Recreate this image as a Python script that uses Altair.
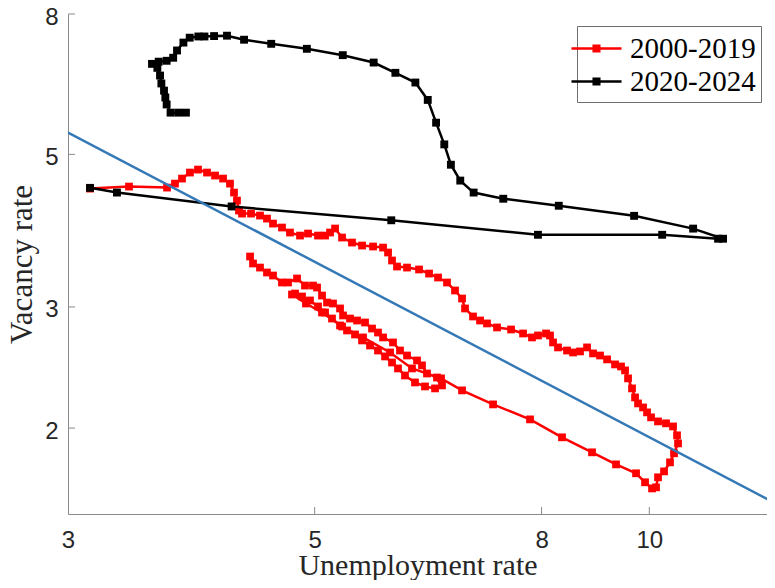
import altair as alt
import pandas as pd

# ---- data ----
series_names = ["2000-2019", "2020-2024"]

red_u = [4.374, 4.401, 4.465, 4.530, 4.587, 4.673, 4.732, 4.821, 4.901, 4.983,
         5.025, 5.077, 5.130, 5.194, 5.270, 5.303, 5.380, 5.459, 5.550, 5.631,
         5.701, 5.761, 5.881, 5.967, 6.054, 6.181, 6.245, 6.310, 6.442, 6.509,
         6.416, 6.284, 6.155, 6.029, 5.942, 5.869, 5.785, 5.701, 5.608, 5.516,
         5.436, 5.347, 5.270, 5.183, 5.109, 5.035, 4.952, 4.871, 4.801,
         4.771, 4.911, 5.077, 5.292, 5.527, 5.845, 6.117, 6.496, 6.785, 7.235,
         7.811, 8.346, 8.881, 9.334, 9.729, 9.912, 10.057, 10.140,
         10.182, 10.310, 10.438, 10.525, 10.613, 10.591, 10.504, 10.352, 10.182, 10.036,
         9.953, 9.871, 9.769, 9.709, 9.648, 9.569, 9.510, 9.431, 9.315, 9.162,
         9.030, 8.900, 8.790, 8.663, 8.539, 8.433, 8.277, 8.192, 8.141, 8.074,
         7.941, 7.843, 7.699, 7.510, 7.295, 7.145, 7.043, 6.941, 6.827, 6.785,
         6.687, 6.577, 6.456, 6.337, 6.207, 6.054, 5.930, 5.869, 5.821, 5.761,
         5.643, 5.516, 5.402, 5.292, 5.216, 5.162, 5.109, 5.035, 4.932, 4.851,
         4.751, 4.673, 4.587, 4.530, 4.465, 4.383, 4.302, 4.275, 4.257, 4.231,
         4.196, 4.136, 4.068, 4.001, 3.927, 3.862, 3.799, 3.744, 3.683, 3.404, 3.140]
red_v = [3.552, 3.470, 3.423, 3.367, 3.333, 3.256, 3.256, 3.300, 3.223, 3.223,
         3.202, 3.117, 3.045, 3.035, 2.985, 2.916, 2.886, 2.867, 2.848, 2.791,
         2.754, 2.709, 2.664, 2.593, 2.550, 2.508, 2.467, 2.401, 2.369, 2.307,
         2.284, 2.299, 2.330, 2.385, 2.442, 2.491, 2.542, 2.593, 2.637, 2.682,
         2.736, 2.773, 2.820, 2.886, 2.945, 3.005, 3.066, 3.107, 3.138,
         3.128, 3.035, 2.945, 2.810, 2.709, 2.576, 2.442, 2.362, 2.269, 2.165,
         2.059, 1.939, 1.844, 1.771, 1.719, 1.668, 1.634, 1.640,
         1.696, 1.730, 1.783, 1.838, 1.900, 1.952, 2.011, 2.032, 2.045, 2.073,
         2.108, 2.143, 2.172, 2.216, 2.284, 2.362, 2.426, 2.458, 2.475, 2.517,
         2.550, 2.568, 2.620, 2.585, 2.576, 2.593, 2.620, 2.664, 2.727, 2.745,
         2.727, 2.709, 2.745, 2.782, 2.801, 2.839, 2.867, 2.906, 2.985, 3.086,
         3.170, 3.256, 3.311, 3.355, 3.401, 3.423, 3.435, 3.505, 3.600, 3.660,
         3.673, 3.685, 3.722, 3.785, 3.901, 3.849, 3.810, 3.810, 3.836, 3.810,
         3.849, 3.914, 3.966, 4.033, 4.074, 4.101, 4.101, 4.143, 4.284, 4.400,
         4.534, 4.611, 4.658, 4.705, 4.752, 4.705, 4.611, 4.534, 4.474, 4.489, 4.459]

black_u = [3.14, 3.32, 4.21, 5.86, 7.94, 10.27, 11.53, 11.65, 10.95, 9.69,
           8.29, 7.39, 6.95, 6.76, 6.63, 6.54, 6.43, 6.32, 6.16, 5.91,
           5.65, 5.30, 4.92, 4.57, 4.32, 4.17, 4.06, 3.98, 3.93, 3.86,
           3.81, 3.76, 3.73, 3.68, 3.62, 3.57, 3.61, 3.63, 3.64, 3.66,
           3.67, 3.68, 3.71, 3.77, 3.83]
black_v = [4.47, 4.40, 4.20, 4.01, 3.82, 3.82, 3.77, 3.77, 3.90, 4.07,
           4.21, 4.31, 4.40, 4.58, 4.83, 5.17, 5.56, 6.00, 6.36, 6.57,
           6.80, 6.97, 7.12, 7.24, 7.34, 7.44, 7.43, 7.42, 7.42, 7.39,
           7.27, 7.08, 6.91, 6.84, 6.82, 6.77, 6.68, 6.51, 6.34, 6.19,
           6.05, 5.91, 5.75, 5.75, 5.75]

fit_u = [3.0, 13.0]
fit_v = [5.38, 1.553]

x_ticks = [3, 5, 8, 10]
y_ticks = [2, 3, 5, 8]

# ---- tables ----
red_df = pd.DataFrame({"u": red_u, "v": red_v, "series": series_names[0],
                       "i": range(len(red_u))})
black_df = pd.DataFrame({"u": black_u, "v": black_v, "series": series_names[1],
                         "i": range(len(black_u))})
fit_df = pd.DataFrame({"u": fit_u, "v": fit_v, "i": range(len(fit_u))})
xt_df = pd.DataFrame({"u": x_ticks[1:]})
yt_df = pd.DataFrame({"v": y_ticks})

W, H = 699, 500
AXIS_GREY = "#8a8a8a"
TXT = "#262626"

xscale = alt.Scale(type="log", domain=[3, 12.76], nice=False, zero=False)
yscale = alt.Scale(type="log", domain=[1.5, 8], nice=False, zero=False)

xaxis = alt.Axis(values=x_ticks, format="d", title="Unemployment rate",
                 grid=False, ticks=False, domainColor=AXIS_GREY, domainWidth=1,
                 labelFont="Liberation Sans", labelFontSize=24, labelColor=TXT,
                 labelBaseline="alphabetic", labelPadding=33, labelFlush=False,
                 labelOverlap=False,
                 titleFont="Liberation Serif", titleFontSize=30, titleFontWeight="normal",
                 titleColor=TXT, titleBaseline="alphabetic", titleY=60, titleX=W / 2)
yaxis = alt.Axis(values=y_ticks, format="d", title="Vacancy rate",
                 grid=False, ticks=False, domainColor=AXIS_GREY, domainWidth=1,
                 labelFont="Liberation Sans", labelFontSize=24, labelColor=TXT,
                 labelBaseline="middle", labelPadding=10, labelFlush=False,
                 labelOverlap=False, labelOffset=3,
                 titleFont="Liberation Serif", titleFontSize=31, titleFontWeight="normal",
                 titleColor=TXT, titleAngle=270, titleBaseline="alphabetic",
                 titleAlign="center", titleX=-37, titleY=H / 2)

X = alt.X("u:Q", scale=xscale, axis=xaxis)
Y = alt.Y("v:Q", scale=yscale, axis=yaxis)

cscale = alt.Scale(domain=series_names, range=["#ff0000", "#000000"])
legend_symbol = ("M-1.43,-0.07H1.43V0.07H-1.43Z "
                 "M-0.23,-0.23H0.23V0.23H-0.23Z")
legend = alt.Legend(title=None, orient="none", legendX=509, legendY=12,
                    symbolType=legend_symbol, symbolSize=1225, symbolStrokeWidth=0,
                    symbolOpacity=1, symbolOffset=-3,
                    labelFont="Liberation Serif", labelFontSize=29, labelColor="#000000",
                    labelOffset=16, labelLimit=300, rowPadding=0,
                    padding=5, strokeColor="#6e6e6e", fillColor="white")
C = alt.Color("series:N", scale=cscale, legend=legend)

red_line = alt.Chart(red_df).mark_line(color="#ff0000", strokeWidth=2.5).encode(
    x=X, y=Y, order="i:Q")
red_pts = alt.Chart(red_df).mark_point(shape="square", filled=True, size=60,
                                       opacity=1).encode(x=X, y=Y, color=C)
black_line = alt.Chart(black_df).mark_line(color="#000000", strokeWidth=2.5).encode(
    x=X, y=Y, order="i:Q")
black_pts = alt.Chart(black_df).mark_point(shape="square", filled=True, size=62,
                                           opacity=1).encode(x=X, y=Y, color=C)
fit_line = alt.Chart(fit_df).mark_line(color="#3479b6", strokeWidth=2.5,
                                       clip=True).encode(x=X, y=Y, order="i:Q")

xticks_in = alt.Chart(xt_df).mark_rule(color=AXIS_GREY, strokeWidth=1).encode(
    x=X, y=alt.value(H), y2=alt.value(H - 7))
yticks_in = alt.Chart(yt_df).mark_rule(color=AXIS_GREY, strokeWidth=1).encode(
    y=Y, x=alt.value(0), x2=alt.value(7))

chart = alt.layer(xticks_in, yticks_in, red_line, red_pts, black_line, black_pts,
                  fit_line).properties(
    width=W, height=H,
    padding={"left": 60, "top": 6, "right": 0, "bottom": 66},
    autosize=alt.AutoSizeParams(type="none"),
    background="white",
).configure_view(stroke=None)

chart.save("out.html", embed_options={"renderer": "svg", "actions": False})
